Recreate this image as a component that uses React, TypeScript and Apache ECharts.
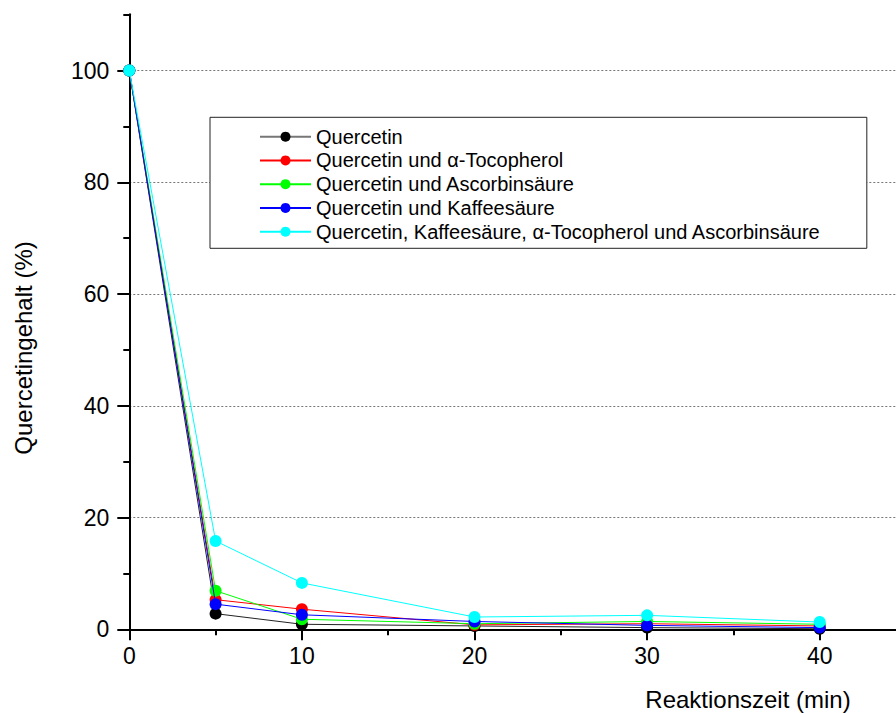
import React, { useEffect, useRef } from "react";
import * as echarts from "echarts";

// Reaction time (min) and remaining quercetin content (%) per mixture
const times = [0, 5, 10, 20, 30, 40];
const quercetin = [100, 2.8, 0.9, 0.6, 0.3, 0.1];
const quercetinTocopherol = [100, 5.3, 3.6, 0.8, 1.0, 0.6];
const quercetinAscorbin = [100, 6.9, 1.8, 1.0, 1.4, 0.9];
const quercetinKaffee = [100, 4.5, 2.6, 1.4, 0.7, 0.3];
const quercetinAll = [100, 15.8, 8.3, 2.2, 2.5, 1.3];

const seriesNames = [
  "Quercetin",
  "Quercetin und α-Tocopherol",
  "Quercetin und Ascorbinsäure",
  "Quercetin und Kaffeesäure",
  "Quercetin, Kaffeesäure, α-Tocopherol und Ascorbinsäure",
];
const seriesValues = [quercetin, quercetinTocopherol, quercetinAscorbin, quercetinKaffee, quercetinAll];
const seriesColors = ["#000000", "#ff0000", "#00ff00", "#0000ff", "#00ffff"];
const lineColors = ["#222222", "#ff0000", "#00ff00", "#0000ff", "#00ffff"];

const xTicks = [0, 10, 20, 30, 40];
const yTicks = [0, 20, 40, 60, 80, 100];

const FONT = "'Liberation Sans', Arial, Helvetica, sans-serif";

export default function App() {
  const ref = useRef<HTMLDivElement>(null);

  useEffect(() => {
    if (!ref.current) return;
    const chart = echarts.init(ref.current, undefined, { renderer: "svg" });

    const series = seriesNames.map((name, i) => ({
      name,
      type: "line",
      data: times.map((t, j) => [t, seriesValues[i][j]]),
      symbol: "circle",
      symbolSize: 12,
      showSymbol: true,
      clip: false,
      itemStyle: { color: seriesColors[i] },
      lineStyle: { color: lineColors[i], width: 1 },
      z: 2 + i,
    }));

    chart.setOption({
      animation: false,
      backgroundColor: "#ffffff",
      textStyle: { fontFamily: FONT },
      // the plot runs on past the right edge of the visible area
      grid: { left: 129.3, right: 0, top: 14.35, bottom: 83.7, containLabel: false },
      xAxis: {
        type: "value",
        min: 0,
        max: 45,
        interval: 10,
        axisLine: { show: true, onZero: false, lineStyle: { color: "#000", width: 2 } },
        axisTick: { show: true, inside: false, length: 11, customValues: xTicks, lineStyle: { color: "#000", width: 2 } },
        minorTick: { show: true, splitNumber: 2, length: 6, lineStyle: { color: "#000", width: 2 } },
        axisLabel: { customValues: xTicks, margin: 15, fontSize: 23, color: "#000", fontFamily: FONT },
        splitLine: { show: false },
      },
      yAxis: {
        type: "value",
        min: 0,
        max: 110.05,
        interval: 20,
        axisLine: { show: true, onZero: false, lineStyle: { color: "#000", width: 2 } },
        axisTick: { show: true, inside: false, length: 12, customValues: yTicks, lineStyle: { color: "#000", width: 2 } },
        minorTick: { show: true, splitNumber: 2, length: 6, lineStyle: { color: "#000", width: 2 } },
        axisLabel: { customValues: yTicks, margin: 20, fontSize: 23, color: "#000", fontFamily: FONT },
        splitLine: { show: true, lineStyle: { color: "#777", width: 1, type: [2, 2] } },
      },
      legend: {
        orient: "vertical",
        left: 210,
        top: 117.3,
        padding: [9.4, 46, 6.6, 49],
        backgroundColor: "#ffffff",
        borderColor: "#222",
        borderWidth: 1,
        itemWidth: 51,
        itemHeight: 12.5,
        itemGap: 3.75,
        textStyle: { fontSize: 20, lineHeight: 20, color: "#000", fontFamily: FONT },
        data: seriesNames.map((name, i) => ({
          name,
          lineStyle: i === 0 ? { color: "#777777" } : undefined,
        })),
        selectedMode: false,
        z: 10,
      },
      graphic: [
        {
          type: "text",
          x: 23,
          y: 348,
          rotation: Math.PI / 2,
          style: {
            text: "Quercetingehalt (%)",
            fontSize: 24,
            fontFamily: FONT,
            fill: "#000",
            textAlign: "center",
            textVerticalAlign: "middle",
          },
        },
        {
          type: "text",
          x: 748,
          y: 699,
          style: {
            text: "Reaktionszeit (min)",
            fontSize: 24,
            fontFamily: FONT,
            fill: "#000",
            textAlign: "center",
            textVerticalAlign: "middle",
          },
        },
      ],
      series,
    });

    return () => chart.dispose();
  }, []);

  return (
    <div style={{ position: "fixed", left: 0, top: 0, width: 896, height: 713, overflow: "hidden" }}>
      <div ref={ref} style={{ width: 906, height: 713 }} />
    </div>
  );
}
